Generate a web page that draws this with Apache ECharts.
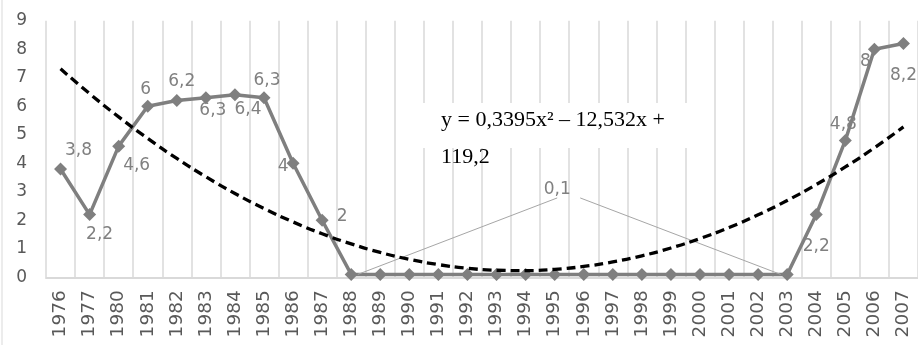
<!DOCTYPE html>
<html>
<head>
<meta charset="utf-8">
<script src="https://cdn.jsdelivr.net/npm/echarts@6/dist/echarts.min.js"></script>
<style>
  html, body { margin: 0; padding: 0; background: #ffffff; }
  #chart { width: 918px; height: 345px; }
</style>
</head>
<body>
<div id="chart"></div>
<script>
// Years on the category axis
const years = ['1976', '1977', '1980', '1981', '1982', '1983', '1984', '1985', '1986', '1987',
  '1988', '1989', '1990', '1991', '1992', '1993', '1994', '1995', '1996', '1997',
  '1998', '1999', '2000', '2001', '2002', '2003', '2004', '2005', '2006', '2007'];

// Observed values per year
const values = [3.8, 2.2, 4.6, 6, 6.2, 6.3, 6.4, 6.3, 4, 2,
  0.1, 0.1, 0.1, 0.1, 0.1, 0.1, 0.1, 0.1, 0.1, 0.1,
  0.1, 0.1, 0.1, 0.1, 0.1, 0.1, 2.2, 4.8, 8, 8.2];

// Value axis range
const yMin = 0;
const yMax = 9;
const yStep = 1;

// Trendline equation text as printed on the chart
const equationLines = ['y = 0,3395x\u00B2 \u2013 12,532x +', '119,2'];

// Label placement (offset of each value label from its point; null = no label)
const labelOffsets = [
  [18, -18], [10, 20], [18, 19], [-2, -17], [5, -19], [7, 13], [13, 15], [3, -17], [-10, 3], [20, -4],
  [206, -85], null, null, null, null, null, null, null, null, null,
  null, null, null, null, null, [-234, -85], [0, 32], [-2, -16], [-9, 12], [0, 32]
];
// Labels that are joined to their point with a leader line
const leaderIdx = [10, 25];

// Second-order polynomial least-squares fit, x = 1..n
function polyFit2(ys) {
  const S = [0, 0, 0, 0, 0], T = [0, 0, 0];
  ys.forEach((y, i) => {
    const x = i + 1;
    let p = 1;
    for (let k = 0; k < 5; k++) {
      S[k] += p;
      if (k < 3) T[k] += p * y;
      p *= x;
    }
  });
  const M = [
    [S[0], S[1], S[2], T[0]],
    [S[1], S[2], S[3], T[1]],
    [S[2], S[3], S[4], T[2]]
  ];
  for (let c = 0; c < 3; c++) {
    for (let r = c + 1; r < 3; r++) {
      const f = M[r][c] / M[c][c];
      for (let k = c; k < 4; k++) M[r][k] -= f * M[c][k];
    }
  }
  const coef = [0, 0, 0];
  for (let r = 2; r >= 0; r--) {
    let s = M[r][3];
    for (let k = r + 1; k < 3; k++) s -= M[r][k] * coef[k];
    coef[r] = s / M[r][r];
  }
  return coef;
}

const fit = polyFit2(values);
const trend = values.map((_, i) => {
  const x = i + 1;
  return +(fit[0] + fit[1] * x + fit[2] * x * x).toFixed(4);
});

const labelFont = 'DejaVu Sans';
const fmt = v => String(v).replace('.', ',');

const seriesData = values.map((v, i) => {
  const off = labelOffsets[i];
  const item = { value: v };
  if (off) {
    item.label = {
      show: true,
      position: 'inside',
      offset: off,
      color: i === 25 ? 'rgba(0,0,0,0)' : '#808080'
    };
    if (leaderIdx.indexOf(i) >= 0) {
      item.labelLine = { show: true, lineStyle: { color: '#a6a6a6', width: 1 } };
    }
  } else {
    item.label = { show: false };
  }
  return item;
});

const chart = echarts.init(document.getElementById('chart'), null, { renderer: 'canvas' });

chart.setOption({
  animation: false,
  backgroundColor: '#ffffff',
  grid: { left: 46, right: -8, top: 20.7, bottom: 67.7, containLabel: false },
  xAxis: {
    type: 'category',
    data: years,
    boundaryGap: true,
    axisLine: { show: true, lineStyle: { color: '#d9d9d9', width: 2 } },
    axisTick: { show: false },
    splitLine: { show: true, interval: 0, lineStyle: { color: '#d9d9d9', width: 1.5 } },
    axisLabel: {
      interval: 0,
      rotate: 90,
      margin: 13,
      color: '#595959',
      fontFamily: labelFont,
      fontSize: 18.5
    }
  },
  yAxis: {
    type: 'value',
    min: yMin,
    max: yMax,
    interval: yStep,
    axisLine: { show: false },
    axisTick: { show: false },
    splitLine: { show: false },
    axisLabel: {
      margin: 19,
      color: '#595959',
      fontFamily: labelFont,
      fontSize: 17
    }
  },
  series: [
    {
      type: 'line',
      data: seriesData,
      symbol: 'diamond',
      symbolSize: 13,
      lineStyle: { color: '#7f7f7f', width: 3.5 },
      itemStyle: { color: '#7f7f7f' },
      label: {
        fontFamily: labelFont,
        fontSize: 17,
        color: '#808080',
        formatter: p => fmt(p.value)
      },
      z: 2
    },
    {
      type: 'line',
      data: trend,
      symbol: 'none',
      smooth: true,
      lineStyle: { color: '#000000', width: 3.3, type: [9, 5] },
      silent: true,
      z: 3
    }
  ],
  graphic: [
    {
      type: 'line',
      shape: { x1: 2, y1: 0, x2: 2, y2: 345 },
      style: { stroke: '#d9d9d9', lineWidth: 1 },
      z: 1
    },
    {
      type: 'rect',
      shape: { x: 420, y: 103, width: 285, height: 45 },
      style: { fill: '#ffffff' },
      z: 1
    },
    {
      type: 'text',
      x: 441,
      y: 102,
      style: {
        text: equationLines.join('\n'),
        font: '22px "Liberation Serif"',
        fill: '#000000',
        lineHeight: 37,
        verticalAlign: 'top',
        align: 'left'
      },
      z: 4
    }
  ]
});
</script>
</body>
</html>
